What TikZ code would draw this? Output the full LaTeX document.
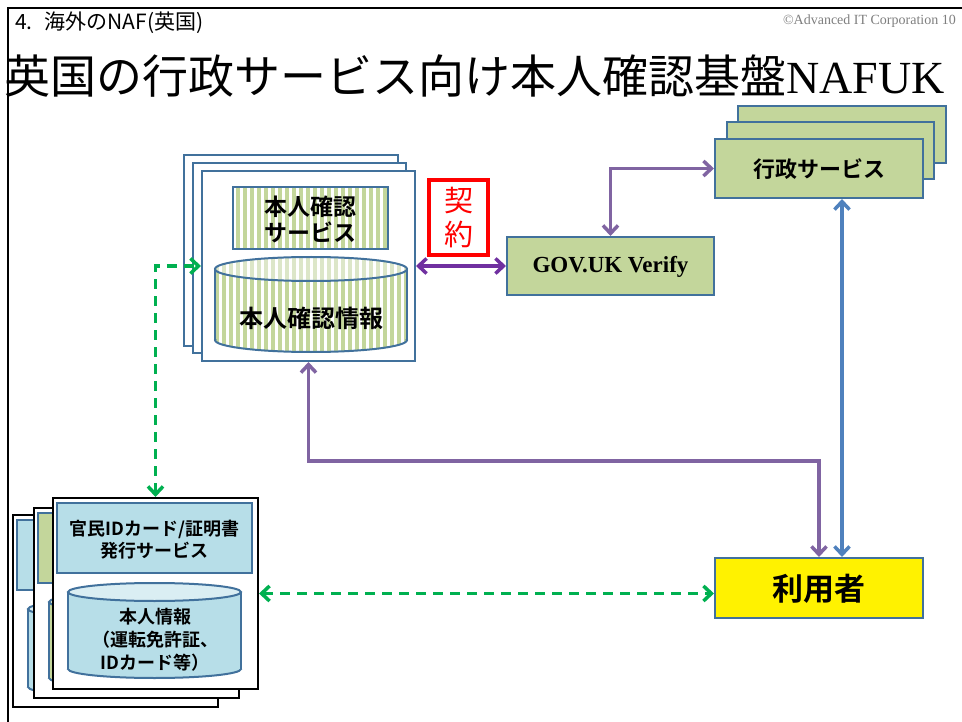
\documentclass[tikz,border=0pt]{standalone}
\usepackage{fontspec}
\usetikzlibrary{arrows.meta,patterns.meta}
\newfontfamily\jp{Noto Sans CJK JP}
\newfontfamily\jpb{Noto Sans CJK JP Bold}
\newfontfamily\tnr{Liberation Serif}
\definecolor{bordblue}{HTML}{41719C}
\definecolor{olivef}{HTML}{C3D69B}
\definecolor{olivel}{HTML}{DCE6C8}
\definecolor{lblue}{HTML}{B7DEE8}
\definecolor{lbluel}{HTML}{DAEEF3}
\definecolor{purp}{HTML}{8064A2}
\definecolor{dpurp}{HTML}{7030A0}
\definecolor{arrblue}{HTML}{4F81BD}
\definecolor{grn}{HTML}{00B050}
\definecolor{cgray}{HTML}{7F7F7F}
\newcommand\mycyl[8]{% L R T B ry bodystyle topstyle linecolor
 \path[#6] ({(#1+#2)/2},{#4-#5}) ellipse ({(#2-#1)/2} and #5);
 \path[#6] (#1,{#3+#5}) rectangle (#2,{#4-#5});
 \begin{scope}
  \clip ({#1-5},{#4-#5}) rectangle ({#2+5},{#4+5});
  \draw[draw=#8,line width=2pt] ({(#1+#2)/2},{#4-#5}) ellipse ({(#2-#1)/2} and #5);
 \end{scope}
 \draw[draw=#8,line width=2pt] (#1,{#3+#5}) -- (#1,{#4-#5}) (#2,{#3+#5}) -- (#2,{#4-#5});
 \path[#7,draw=#8,line width=2pt] ({(#1+#2)/2},{#3+#5}) ellipse ({(#2-#1)/2} and #5);
}
\begin{document}
\begin{tikzpicture}[x=1pt,y=-1pt,
  bluecard/.style={draw=bordblue,line width=2pt,fill=white,inner sep=0pt},
  blackcard/.style={draw=black,line width=2pt,fill=white,inner sep=0pt},
  olbox/.style={draw=bordblue,line width=2pt,fill=olivef,inner sep=0pt},
  stripes/.style={preaction={fill=white},pattern={Lines[angle=90,distance=7pt,line width=3.5pt]},pattern color=olivef},
  stripesl/.style={preaction={fill=white},pattern={Lines[angle=90,distance=7pt,line width=3.5pt]},pattern color=olivel},
  dbl/.style={line width=3.5pt,{Straight Barb[length=8pt,width=15pt]}-{Straight Barb[length=8pt,width=15pt]}},
  parr/.style={draw=purp,dbl},
  karr/.style={draw=dpurp,dbl},
  barr/.style={draw=arrblue,dbl},
  garr/.style={draw=grn,dbl,dash pattern=on 10pt off 7pt},
  btext/.style 2 args={font=\jpb\fontsize{#1}{#2}\selectfont,align=center,inner sep=0pt},
]
\useasboundingbox (0,0) rectangle (962,722);
\fill[white] (0,0) rectangle (962,722);
% frame
\draw[line width=2.5pt] (8,722) -- (8,8) -- (962,8);
% header texts
\node[anchor=west,inner sep=0pt] (hdr) at (15,23) {\jp\fontsize{21}{21}\selectfont 4.\hspace{12pt}海外のNAF(英国)};
\node[anchor=east,inner sep=0pt,text=cgray] (copy) at (956,21) {\tnr\fontsize{14}{14}\selectfont ©Advanced IT Corporation 10};
\node[anchor=west,inner sep=0pt] (title) at (4,76) {\jp\fontsize{46}{46}\selectfont 英国の行政サービス向け本人確認基盤{\tnr NAFUK}};

% honnin stack
\node[bluecard,minimum width=214pt,minimum height=191pt] (hb3) at (291,250.5) {};
\node[bluecard,minimum width=213pt,minimum height=190pt] (hb2) at (299.5,258) {};
\node[bluecard,minimum width=213pt,minimum height=190pt] (honnin) at (308.5,266) {};
\node[draw=bordblue,line width=2pt,stripes,inner sep=0pt,minimum width=155pt,minimum height=62pt] (hserv) at (310.5,218) {};
\node[btext={23}{26}] (hservt) at (310.5,219) {本人確認\\サービス};
\mycyl{215}{407}{257}{352}{12}{stripes}{stripesl}{bordblue}
\node[btext={24}{26}] (hdb) at (311,318) {本人確認情報};

% contract
\node[draw=red,line width=3.5pt,inner sep=0pt,minimum width=59pt,minimum height=75pt] (kei) at (458.5,217.5) {};
\node[font=\jp\fontsize{29}{34}\selectfont,text=red,align=center,inner sep=0pt] (keit) at (458.5,218) {契\\約};

% GOV.UK Verify
\node[olbox,minimum width=207pt,minimum height=58pt] (gov) at (610.5,266) {};
\node[font=\tnr\bfseries\fontsize{23}{23}\selectfont,inner sep=0pt] (govt) at (610.5,267) {GOV.UK Verify};

% gyosei stack
\node[olbox,minimum width=208pt,minimum height=57pt] (gb3) at (842,134.5) {};
\node[olbox,minimum width=207pt,minimum height=57pt] (gb2) at (830.5,150.5) {};
\node[olbox,minimum width=208pt,minimum height=59pt] (gyosei) at (819,168.5) {};
\node[btext={22}{24}] (gyoseit) at (819,169) {行政サービス};

% riyosha
\node[draw=bordblue,line width=2pt,fill=yellow,inner sep=0pt,minimum width=208pt,minimum height=60pt] (riyosha) at (819,588) {};
\node[btext={31}{33}] (riyoshat) at (819,589) {利用者};

% ID stack
\node[blackcard,minimum width=205pt,minimum height=192pt] (idback) at (115.5,611) {};
\node[draw=bordblue,line width=2pt,fill=lblue,inner sep=0pt,minimum width=195pt,minimum height=70pt] (idbackbox) at (114.5,555) {};
\mycyl{28}{201}{600}{696}{9}{fill=lblue}{fill=lbluel}{bordblue}
\node[blackcard,minimum width=205pt,minimum height=190pt] (idmid) at (136.5,603) {};
\node[olbox,minimum width=195pt,minimum height=70pt] (idmidbox) at (135.5,548) {};
\mycyl{49}{222}{593}{687}{9}{fill=olivef}{fill=olivel}{bordblue}
\node[blackcard,minimum width=205pt,minimum height=191pt] (idfront) at (155.5,593.5) {};
\node[draw=bordblue,line width=2pt,fill=lblue,inner sep=0pt,minimum width=195pt,minimum height=70pt] (idbox) at (154.5,538) {};
\node[btext={18}{22}] (idboxt) at (154.5,540) {官民IDカード/証明書\\発行サービス};
\mycyl{68}{241}{583}{678}{9}{fill=lblue}{fill=lbluel}{bordblue}
\node[btext={18}{23}] (iddb) at (155,640) {本人情報\\（運転免許証、\\IDカード等）};

% connectors
\draw[karr] (honnin.east) -- (gov.west);
\draw[parr] (gov.north) |- (gyosei.west);
\draw[parr] (honnin.south) -- ++(0,99) -| (riyosha.north);
\draw[barr] ([xshift=23pt]gyosei.south) -- ([xshift=23pt]riyosha.north);
\draw[garr] (idfront.north) |- (honnin.west);
\draw[garr] (idfront.east) -- (idfront.east -| riyosha.west);
\end{tikzpicture}
\end{document}
